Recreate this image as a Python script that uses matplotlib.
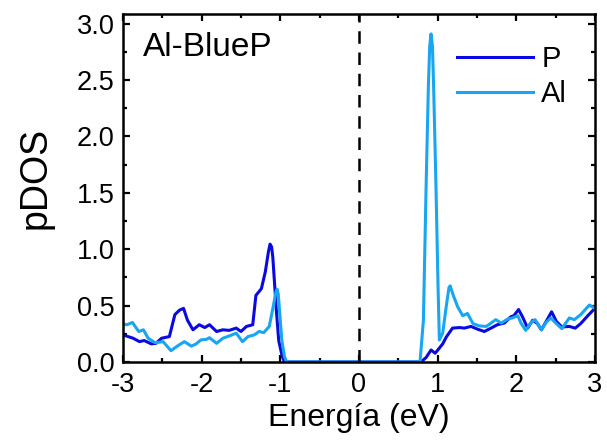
import matplotlib
matplotlib.use('Agg')
import matplotlib.pyplot as plt
from matplotlib.ticker import MultipleLocator

plt.rcParams['font.family'] = ['Liberation Sans', 'DejaVu Sans']

# pDOS proyectada sobre P
e_p = [-3.0, -2.87, -2.79, -2.73, -2.64, -2.58, -2.51, -2.41, -2.34, -2.28,
       -2.23, -2.18, -2.11, -2.03, -1.96, -1.90, -1.81, -1.73, -1.65, -1.56,
       -1.50, -1.43, -1.35, -1.31, -1.24, -1.19, -1.15, -1.13, -1.11, -1.095,
       -1.05, -1.02, -0.976, -0.947, 0.79, 0.855, 0.917, 0.97, 1.065, 1.11,
       1.19, 1.28, 1.34, 1.425, 1.51, 1.595, 1.68, 1.76, 1.85, 1.93,
       1.97, 2.03, 2.08, 2.145, 2.21, 2.27, 2.32, 2.39, 2.45, 2.51,
       2.58, 2.675, 2.75, 2.82, 2.91, 3.0]
dos_p = [0.24, 0.21, 0.18, 0.19, 0.16, 0.165, 0.21, 0.225, 0.42, 0.46,
         0.475, 0.37, 0.285, 0.33, 0.305, 0.33, 0.27, 0.285, 0.28, 0.30,
         0.27, 0.315, 0.33, 0.59, 0.65, 0.80, 0.98, 1.045, 1.02, 0.93,
         0.46, 0.19, 0.05, 0.0, 0.0, 0.04, 0.106, 0.077, 0.16, 0.22,
         0.30, 0.305, 0.30, 0.315, 0.29, 0.27, 0.30, 0.33, 0.345, 0.40,
         0.41, 0.465, 0.40, 0.30, 0.37, 0.34, 0.285, 0.37, 0.445, 0.36,
         0.31, 0.315, 0.30, 0.34, 0.41, 0.475]

# pDOS proyectada sobre Al
e_al = [-3.0, -2.95, -2.88, -2.80, -2.74, -2.68, -2.59, -2.49, -2.39, -2.30,
        -2.22, -2.13, -2.07, -2.01, -1.94, -1.90, -1.81, -1.73, -1.65, -1.56,
        -1.48, -1.41, -1.33, -1.27, -1.21, -1.14, -1.09, -1.055, -1.04, -1.025,
        -1.01, -0.98, -0.947, -0.92, 0.777, 0.82, 0.854, 0.883, 0.90, 0.917,
        0.935, 0.95, 0.98, 1.006, 1.023, 1.065, 1.11, 1.145, 1.16, 1.20,
        1.255, 1.32, 1.38, 1.45, 1.53, 1.62, 1.68, 1.74, 1.81, 1.89,
        1.95, 2.02, 2.06, 2.12, 2.19, 2.24, 2.32, 2.38, 2.44, 2.51,
        2.58, 2.675, 2.74, 2.82, 2.93, 3.0]
dos_al = [0.337, 0.33, 0.35, 0.27, 0.285, 0.21, 0.17, 0.18, 0.10, 0.145,
          0.18, 0.14, 0.16, 0.195, 0.20, 0.215, 0.165, 0.21, 0.23, 0.255,
          0.18, 0.225, 0.24, 0.27, 0.26, 0.315, 0.49, 0.62, 0.645, 0.60,
          0.46, 0.19, 0.05, 0.0, 0.0, 0.37, 1.55, 2.44, 2.80, 2.91,
          2.80, 2.44, 1.55, 0.67, 0.195, 0.255, 0.49, 0.66, 0.675, 0.59,
          0.49, 0.41, 0.43, 0.34, 0.32, 0.315, 0.345, 0.375, 0.345, 0.38,
          0.39, 0.41, 0.345, 0.28, 0.35, 0.375, 0.285, 0.35, 0.39, 0.34,
          0.295, 0.39, 0.375, 0.42, 0.505, 0.475]

xticks = [-3, -2, -1, 0, 1, 2, 3]
xticklabels = ['-3', '-2', '-1', '0', '1', '2', '3']

fig = plt.figure(figsize=(6.07, 4.43), dpi=100)
ax = fig.add_axes([0.2026, 0.183, 0.7774, 0.785])

ax.plot(e_p, dos_p, color='#0a0ae0', lw=2.2, label='P')
ax.plot(e_al, dos_al, color='#18a6f2', lw=2.2, label='Al')
ax.axvline(0, color='black', lw=1.8, ls=(0, (5, 3.5)))

ax.set_xlim(-3, 3)
ax.set_ylim(0, 3.085)
ax.set_xticks(xticks)
ax.set_xticklabels(xticklabels)
ax.xaxis.set_minor_locator(MultipleLocator(0.5))
ax.yaxis.set_major_locator(MultipleLocator(0.5))
ax.yaxis.set_minor_locator(MultipleLocator(0.25))
ax.tick_params(which='both', direction='in', top=True, right=True,
               width=1.6, labelsize=19.5)
ax.tick_params(which='major', length=5)
ax.tick_params(which='minor', length=3)
ax.tick_params(axis='x', which='major', pad=7.5)
ax.tick_params(axis='y', which='major', pad=6)
for s in ax.spines.values():
    s.set_linewidth(1.8)

ax.set_xlabel('Energía (eV)', fontsize=23, labelpad=3)
ax.set_ylabel('pDOS', fontsize=27)
ax.yaxis.set_label_coords(-0.146, 0.53)
ax.text(0.042, 0.905, 'Al-BlueP', transform=ax.transAxes, fontsize=24,
        va='center', ha='left')
ax.legend(loc='upper right', bbox_to_anchor=(0.966, 0.945), borderaxespad=0,
          frameon=False, fontsize=21, handlelength=2.6, handletextpad=0.3,
          labelspacing=0.25)

fig.savefig('out.png', dpi=100)
